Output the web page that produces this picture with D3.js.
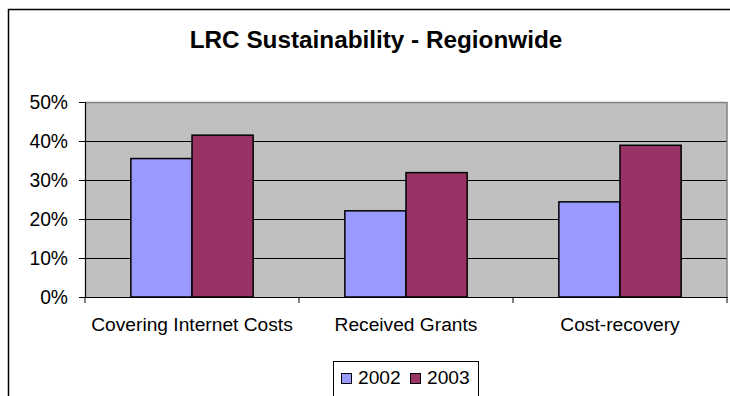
<!DOCTYPE html>
<html>
<head>
<meta charset="utf-8">
<script src="https://cdn.jsdelivr.net/npm/d3@7"></script>
<style>
  html, body { margin: 0; padding: 0; background: #fff; }
  svg { display: block; font-family: "Liberation Sans", Arial, sans-serif; }
</style>
</head>
<body>
<svg id="chart" width="730" height="396"></svg>
<script>
// Chart data
const categories = ["Covering Internet Costs", "Received Grants", "Cost-recovery"];
const years = ["2002", "2003"];
const values2002 = [0.355, 0.221, 0.244];
const values2003 = [0.415, 0.319, 0.389];
const yTicks = [0, 0.1, 0.2, 0.3, 0.4, 0.5];
const colors = ["#9999FF", "#993366"];
const title = "LRC Sustainability - Regionwide";

const seriesValues = [values2002, values2003];

const svg = d3.select("#chart");

// Outer chart frame (extends past the right and bottom edges)
svg.append("rect")
  .attr("x", 8.5).attr("y", 9.5)
  .attr("width", 740).attr("height", 410)
  .attr("fill", "#fff").attr("stroke", "#000").attr("stroke-width", 1.5);

// Title
svg.append("text")
  .attr("x", 376).attr("y", 48)
  .attr("text-anchor", "middle")
  .attr("font-size", 24.3).attr("font-weight", "bold")
  .attr("fill", "#000")
  .text(title);

// Plot area
const plot = { left: 85, right: 727, top: 102, bottom: 297 };

const x = d3.scaleBand()
  .domain(categories)
  .range([plot.left, plot.right])
  .paddingInner(0).paddingOuter(0);

const bw = x.bandwidth();
const barUnit = bw / 3.5;
const x1 = d3.scaleBand()
  .domain(years)
  .range([0.75 * barUnit, 2.75 * barUnit])
  .padding(0);

const y = d3.scaleLinear()
  .domain([0, 0.5])
  .range([plot.bottom, plot.top]);

// Plot background
svg.append("rect")
  .attr("x", plot.left).attr("y", plot.top)
  .attr("width", plot.right - plot.left)
  .attr("height", plot.bottom - plot.top)
  .attr("fill", "#C0C0C0");

// Gridlines
svg.append("g")
  .selectAll("line")
  .data(yTicks.filter(d => d > 0 && d < 0.5))
  .join("line")
  .attr("x1", plot.left).attr("x2", plot.right)
  .attr("y1", d => Math.round(y(d)) + 0.5)
  .attr("y2", d => Math.round(y(d)) + 0.5)
  .attr("stroke", "#000").attr("stroke-width", 1);

// Plot border top/right
svg.append("path")
  .attr("d", `M${plot.left},${plot.top + 0.5}H${plot.right}V${plot.bottom}`)
  .attr("fill", "none").attr("stroke", "#808080").attr("stroke-width", 1.5);

// Bars
const groups = svg.append("g")
  .selectAll("g")
  .data(categories)
  .join("g")
  .attr("transform", d => `translate(${x(d)},0)`);

groups.selectAll("rect")
  .data((d, i) => years.map((yr, s) => ({ year: yr, s, value: seriesValues[s][i] })))
  .join("rect")
  .attr("x", d => x1(d.year))
  .attr("y", d => y(d.value))
  .attr("width", x1.bandwidth())
  .attr("height", d => y(0) - y(d.value))
  .attr("fill", d => colors[d.s])
  .attr("stroke", "#000").attr("stroke-width", 1.5);

// Y axis
const yAxis = svg.append("g")
  .attr("transform", `translate(${plot.left},0)`)
  .call(d3.axisLeft(y).tickValues(yTicks).tickSize(6).tickPadding(11).tickFormat(d3.format(".0%")));
yAxis.selectAll("text").attr("font-size", 19.3).attr("fill", "#000").attr("font-family", "Liberation Sans, Arial, sans-serif");
yAxis.selectAll("line").attr("stroke", "#000");
yAxis.select(".domain").attr("stroke", "#000").attr("stroke-width", 1.2);

// X axis
const xAxis = svg.append("g")
  .attr("transform", `translate(0,${plot.bottom})`)
  .call(d3.axisBottom(x).tickSize(0).tickPadding(20));
xAxis.selectAll("text").attr("font-size", 19.2).attr("fill", "#000").attr("font-family", "Liberation Sans, Arial, sans-serif");
xAxis.select(".domain").attr("stroke", "#000").attr("stroke-width", 1.2);

// Category boundary ticks
const bounds = categories.map(c => x(c)).concat([x(categories[categories.length - 1]) + bw]);
xAxis.selectAll(".bound")
  .data(bounds)
  .join("line")
  .attr("class", "bound")
  .attr("x1", d => d).attr("x2", d => d)
  .attr("y1", 0).attr("y2", 6)
  .attr("stroke", "#000");

// Legend
const legend = svg.append("g");
legend.append("rect")
  .attr("x", 333.5).attr("y", 361.5)
  .attr("width", 145).attr("height", 50)
  .attr("fill", "#fff").attr("stroke", "#000").attr("stroke-width", 1);

const legendX = [341, 410];
years.forEach((yr, i) => {
  legend.append("rect")
    .attr("x", legendX[i] + 0.5).attr("y", 373.5)
    .attr("width", 10).attr("height", 10)
    .attr("fill", colors[i]).attr("stroke", "#000").attr("stroke-width", 1);
  legend.append("text")
    .attr("x", legendX[i] + 17).attr("y", 384)
    .attr("font-size", 19.2).attr("fill", "#000")
    .text(yr);
});
</script>
</body>
</html>
